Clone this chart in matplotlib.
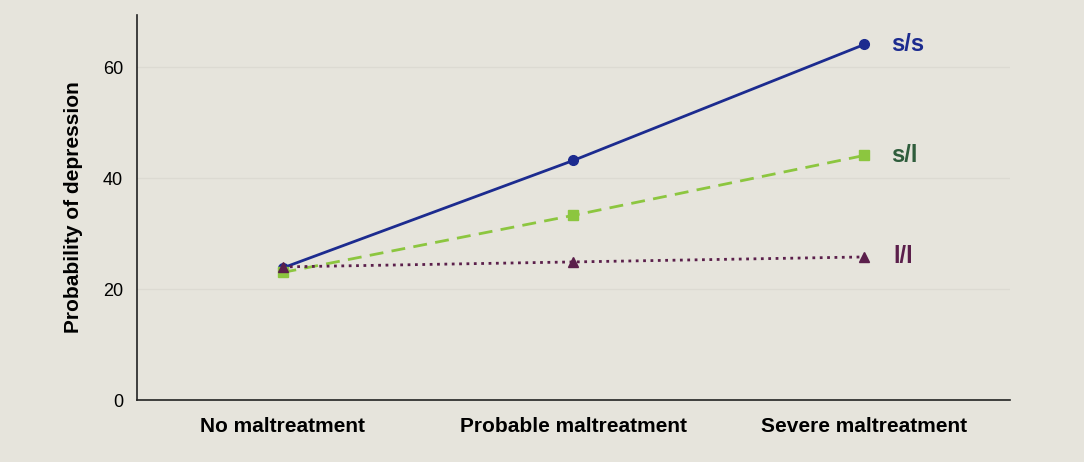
import matplotlib.pyplot as plt

plt.rcParams['font.family'] = ['Liberation Sans', 'DejaVu Sans']

categories = ['No maltreatment', 'Probable maltreatment', 'Severe maltreatment']
ss = [23.8, 43.2, 64.1]
sl = [23.0, 33.3, 44.1]
ll = [24.0, 24.9, 25.8]

bg = '#e6e4dc'
fig = plt.figure(figsize=(10.84, 4.62), dpi=100, facecolor=bg)
ax = fig.add_axes([0.1264, 0.134, 0.8053, 0.8335], facecolor=bg)

x = range(len(categories))
ax.plot(x, ss, color='#1c2b8f', lw=2, marker='o', ms=7)
ax.plot(x, sl, color='#8cc63f', lw=2, ls=(0, (5, 3)), marker='s', ms=7)
ax.plot(x, ll, color='#5b1f4b', lw=2, ls=':', marker='^', ms=7)

ax.text(2.09, ss[-1], 's/s', color='#1c2b8f', fontsize=17, fontweight='bold', va='center')
ax.text(2.09, sl[-1], 's/l', color='#2f5d3c', fontsize=17, fontweight='bold', va='center')
ax.text(2.1, ll[-1], 'l/l', color='#5b1f4b', fontsize=17, fontweight='bold', va='center')

ax.set_xlim(-0.5, 2.5)
ax.set_ylim(0, 69.4)
ax.set_yticks([0, 20, 40, 60])
ax.set_xticks(list(x))
ax.set_xticklabels(categories, fontsize=15, fontweight='bold')
ax.tick_params(axis='x', length=0, pad=12)
ax.tick_params(axis='y', length=0, labelsize=13, pad=10)
ax.yaxis.grid(True, color='#dcdad2', lw=1)
ax.set_axisbelow(True)
for s in ['top', 'right']:
    ax.spines[s].set_visible(False)
for s in ['left', 'bottom']:
    ax.spines[s].set_color('#222222')
    ax.spines[s].set_linewidth(1.2)
ax.set_ylabel('Probability of depression', fontsize=15, fontweight='bold', labelpad=14)

fig.savefig('out.png', dpi=100, facecolor=bg)
